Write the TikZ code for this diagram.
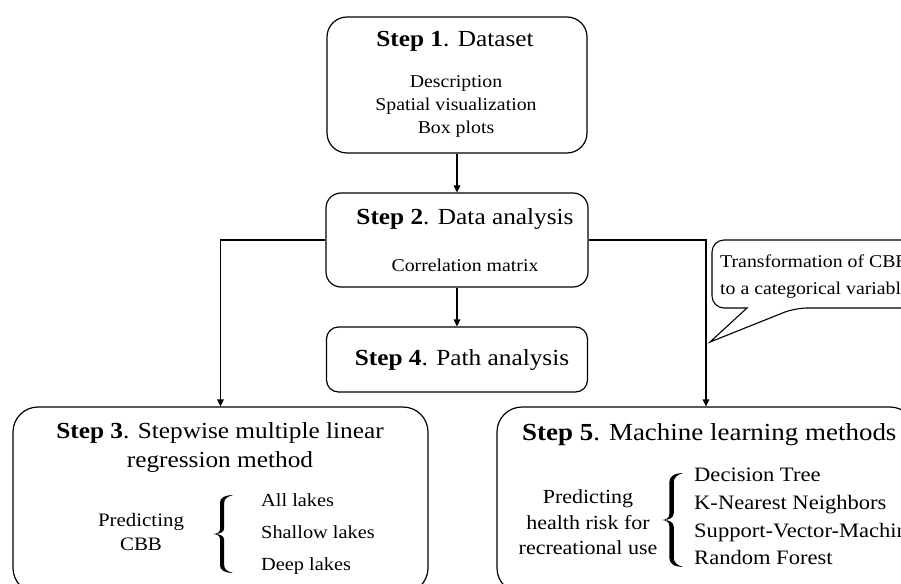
\documentclass[tikz,border=0pt]{standalone}
\usepackage{fontspec}
\setmainfont[FakeStretch=1.1]{Liberation Serif}
\usetikzlibrary{arrows.meta}
\tikzset{
  box/.style={draw, line width=1.2pt, inner sep=0pt},
  conn/.style={line width=1.5pt, -{Triangle[length=7pt,width=6.5pt]}},
  txt/.style={inner sep=0pt, align=center},
}
% filled curly brace: #1,#2 = point of the brace (left middle), #3 = width, #4 = half height
\newcommand{\curlybrace}[4]{%
  \begin{scope}[shift={(#1,#2)}]
  \fill[x=#3pt,y=#4pt]
    (1,-1) .. controls (0.55,-0.99) and (0.35,-0.93) .. (0.35,-0.8)
    -- (0.35,-0.13) .. controls (0.35,-0.04) and (0.2,-0.005) .. (0,0)
    .. controls (0.2,0.005) and (0.35,0.04) .. (0.35,0.13)
    -- (0.35,0.8) .. controls (0.35,0.93) and (0.55,0.99) .. (1,1)
    .. controls (0.7,0.96) and (0.56,0.9) .. (0.56,0.8)
    -- (0.56,0.15) .. controls (0.56,0.05) and (0.35,0.0) .. (0.08,0)
    .. controls (0.35,0.0) and (0.56,-0.05) .. (0.56,-0.15)
    -- (0.56,-0.8) .. controls (0.56,-0.9) and (0.7,-0.96) .. (1,-1) -- cycle;
  \end{scope}}
\begin{document}
\begin{tikzpicture}[x=1pt,y=-1pt]
\useasboundingbox (0,0) rectangle (901,583);
\clip (0,0) rectangle (901,583);
% boxes
\node[box, rounded corners=20pt, minimum width=260pt, minimum height=136pt] (s1) at (457,85) {};
\node[box, rounded corners=15pt, minimum width=262pt, minimum height=94pt] (s2) at (457,240) {};
\node[box, rounded corners=12pt, minimum width=261pt, minimum height=65pt] (s4) at (457,359.5) {};
\node[box, rounded corners=25pt, minimum width=415pt, minimum height=186pt] (s3) at (220.5,500) {};
\node[box, rounded corners=25pt, minimum width=418pt, minimum height=186pt] (s5) at (706,500) {};
% texts
\node[txt, font=\fontsize{23}{28}\selectfont] (t1) at (455,41) {\textbf{Step 1}. Dataset};
\node[txt, font=\fontsize{18}{23}\selectfont] (b1) at (456,106) {Description\\Spatial visualization\\Box plots};
\node[txt, font=\fontsize{23}{28}\selectfont] (t2) at (465,219) {\textbf{Step 2}. Data analysis};
\node[txt, font=\fontsize{18}{23}\selectfont] (b2) at (465,265) {Correlation matrix};
\node[txt, font=\fontsize{23}{28}\selectfont] (t4) at (462,360) {\textbf{Step 4}. Path analysis};
\node[txt, font=\fontsize{23}{29}\selectfont] (t3) at (220,447.5) {\textbf{Step 3}. Stepwise multiple linear\\regression method};
\node[txt, font=\fontsize{19}{24}\selectfont] (p3) at (141,532) {Predicting\\CBB};
\curlybrace{213}{534}{20}{39}
\node[txt, font=\fontsize{18.5}{32}\selectfont, anchor=west, align=left] (i3) at (261,534) {All lakes\\Shallow lakes\\Deep lakes};
\node[txt, font=\fontsize{24.5}{29}\selectfont, anchor=west] (t5) at (522,435) {\textbf{Step 5}. Machine learning methods};
\node[txt, font=\fontsize{20}{25.5}\selectfont] (p5) at (588,522.5) {Predicting\\health risk for\\recreational use};
\curlybrace{662}{520}{21}{47}
\node[txt, font=\fontsize{20.5}{27.7}\selectfont, anchor=west, align=left] (i5) at (694,516.5) {Decision Tree\\K-Nearest Neighbors\\Support-Vector-Machine\\Random Forest};
% connectors
\draw[conn] (s1) -- (s2);
\draw[conn] (s2) -- (s4);
\draw[conn] (s2.west) -| (s3.north);
\draw[conn] (s2.east) -| (s5.north);
% callout
\coordinate (tip) at (710,342);
\draw[line width=1.1pt, fill=white, rounded corners=12pt] (747,308) -- (712,308) -- (712,240) -- (1000,240) -- (1000,308) -- (795,308) [sharp corners] -- (tip) -- cycle;
\node[txt, font=\fontsize{18}{27}\selectfont, anchor=west, align=left] (co) at (720,276.5) {Transformation of CBB\\to a categorical variable};
\end{tikzpicture}
\end{document}
